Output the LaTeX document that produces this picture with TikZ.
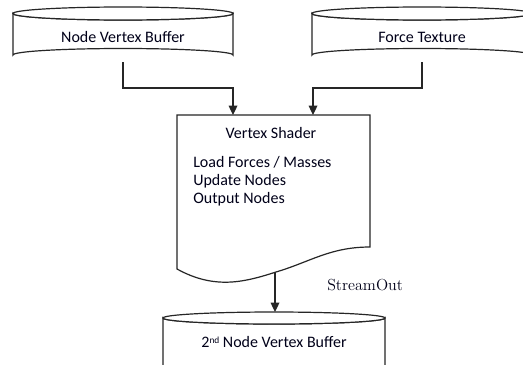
\documentclass[tikz,border=0pt]{standalone}
\usepackage{fontspec}
\setmainfont{Carlito}
\newfontfamily\labelserif{Latin Modern Roman}
\usetikzlibrary{arrows.meta}
\tikzset{
  outline/.style={draw=black!85, line width=0.9pt, fill=white},
  flow/.style={draw=black!85, line width=0.9pt, -{Triangle[width=6.5pt,length=7pt]}},
  lbl/.style={font=\fontsize{12}{14}\selectfont, text=black!90!blue, inner sep=0pt},
}
% cylinder drawn from its left x, right x, top-ellipse centre y, side bottom y, radius y
\newcommand{\drumshape}[5]{%
  \path[outline] (#1,#3) -- (#1,#4) arc[start angle=180, end angle=360, x radius={(#2-#1)/2}, y radius=#5]
    -- (#2,#3) arc[start angle=0, end angle=180, x radius={(#2-#1)/2}, y radius=#5] -- cycle;
  \path[outline] ({(#1+#2)/2},#3) ellipse[x radius={(#2-#1)/2}, y radius=#5];
}
\newcommand{\smallsup}[1]{\raisebox{0.55ex}{\fontsize{7}{7}\selectfont #1}}
\begin{document}
\begin{tikzpicture}[x=0.75pt, y=-0.75pt]
  \useasboundingbox (0,0) rectangle (523,364);
  \clip (0,0) rectangle (523,364);
  \fill[white] (0,0) rectangle (523,364);

  % data stores
  \drumshape{13}{233}{13.5}{55}{6.5}
  \drumshape{312}{532}{13.5}{55}{6.5}
  \drumshape{163}{385}{318}{400}{6}
  \node[lbl] (nvb) at (123,37) {Node Vertex Buffer};
  \node[lbl] (ftex) at (422,37) {Force Texture};
  \node[lbl] (nvb2) at (274,342) {2\smallsup{nd} Node Vertex Buffer};
  \coordinate (nvb-out) at (123,62);
  \coordinate (ftex-out) at (422,62);
  \coordinate (nvb2-in) at (275,312);

  % document shape for the shader
  \path[outline] (177,115) -- (370,115) -- (370,247)
    .. controls (330,247) and (310,262) .. (276,272)
    .. controls (245,282) and (215,290) .. (177,269) -- cycle;
  \coordinate (vs-in-l) at (233,115);
  \coordinate (vs-in-r) at (313,115);
  \coordinate (vs-out) at (275,272);
  \node[lbl] (vs) at (271,133) {Vertex Shader};
  \node[lbl, anchor=west] (vs1) at (193,162) {Load Forces / Masses};
  \node[lbl, anchor=west] (vs2) at (193,181) {Update Nodes};
  \node[lbl, anchor=west] (vs3) at (193,199) {Output Nodes};

  % connectors
  \draw[flow] (nvb-out) -- (123,88) -| (vs-in-l);
  \draw[flow] (ftex-out) -- (422,88) -| (vs-in-r);
  \draw[flow] (vs-out) -- (nvb2-in);
  \node[inner sep=0pt, anchor=west, text=black!90!blue, font=\labelserif\fontsize{12}{14}\selectfont] (so) at (327,285) {StreamOut};
\end{tikzpicture}
\end{document}
